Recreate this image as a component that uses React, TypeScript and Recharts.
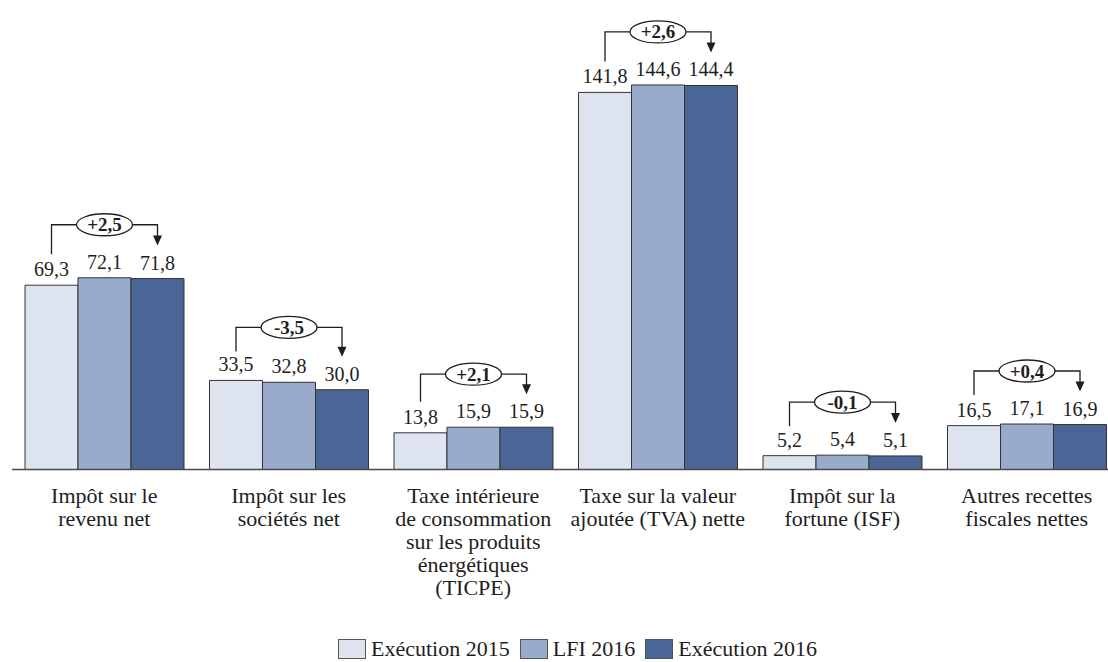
import React from 'react';
import { BarChart, Bar, XAxis, YAxis, LabelList } from 'recharts';

const categories = [
  'Impôt sur le revenu net',
  'Impôt sur les sociétés net',
  'Taxe intérieure de consommation sur les produits énergétiques (TICPE)',
  'Taxe sur la valeur ajoutée (TVA) nette',
  'Impôt sur la fortune (ISF)',
  'Autres recettes fiscales nettes'
];

const tickLines = [
  ['Impôt sur le', 'revenu net'],
  ['Impôt sur les', 'sociétés net'],
  ['Taxe intérieure', 'de consommation', 'sur les produits', 'énergétiques', '(TICPE)'],
  ['Taxe sur la valeur', 'ajoutée (TVA) nette'],
  ['Impôt sur la', 'fortune (ISF)'],
  ['Autres recettes', 'fiscales nettes']
];

const exec2015 = [69.3, 33.5, 13.8, 141.8, 5.2, 16.5];
const lfi2016 = [72.1, 32.8, 15.9, 144.6, 5.4, 17.1];
const exec2016 = [71.8, 30.0, 15.9, 144.4, 5.1, 16.9];
const deltas = ['+2,5', '-3,5', '+2,1', '+2,6', '-0,1', '+0,4'];

const seriesNames = ['Exécution 2015', 'LFI 2016', 'Exécution 2016'];
const COLORS = ['#dde4ef', '#98abcc', '#4a6697'];

const FONT = "'Liberation Serif', 'Times New Roman', serif";
const INK = '#1e1e1e';

const data = categories.map((cat, i) => ({
  cat,
  e15: exec2015[i],
  lfi: lfi2016[i],
  e16: exec2016[i]
}));

const fmt = (v: number) => v.toFixed(1).replace('.', ',');

function ValueLabel(props: any) {
  const { x, y, width, value } = props;
  return (
    <text x={x + width / 2} y={y - 9} textAnchor="middle" fontSize={20} fontFamily={FONT} fill={INK}>
      {fmt(Number(value))}
    </text>
  );
}

// value label + bracket with the 2015 -> 2016 difference, drawn from the last series
function LastLabel(props: any) {
  const { x, y, width, height, index } = props;
  const v3 = exec2016[index];
  const base = y + height;
  const k = height / v3;
  const top = (v: number) => base - v * k;
  const maxTop = top(Math.max(exec2015[index], lfi2016[index], exec2016[index]));
  const hy = maxTop - 53;
  const x1 = x - 1.5 * width;
  const xm = x - width / 2;
  const x3 = x + width / 2;
  const leftEnd = Math.max(top(exec2015[index]) - 31, hy + 24);
  const tip = top(exec2016[index]) - 33;
  return (
    <g>
      <text x={x3} y={y - 9} textAnchor="middle" fontSize={20} fontFamily={FONT} fill={INK}>
        {fmt(v3)}
      </text>
      <polyline points={`${x1},${leftEnd} ${x1},${hy} ${x3},${hy} ${x3},${tip - 9}`} fill="none" stroke={INK} strokeWidth={1.3} />
      <polygon points={`${x3 - 4.5},${tip - 10} ${x3 + 4.5},${tip - 10} ${x3},${tip}`} fill={INK} />
      <ellipse cx={xm} cy={hy} rx={28} ry={11} fill="#fff" stroke={INK} strokeWidth={1.3} />
      <text x={xm} y={hy + 6.5} textAnchor="middle" fontSize={19} fontWeight="bold" fontFamily={FONT} fill={INK}>
        {deltas[index]}
      </text>
    </g>
  );
}

function CategoryTick(props: any) {
  const { x, y, index } = props;
  const lines = tickLines[index] || [];
  return (
    <text x={x} y={y} textAnchor="middle" fontSize={22} fontFamily={FONT} fill={INK}>
      {lines.map((l, i) => (
        <tspan key={i} x={x} y={y + 25 + i * 23}>{l}</tspan>
      ))}
    </text>
  );
}

export default function App() {
  return (
    <div style={{ position: 'absolute', left: 0, top: 0, width: 1108, height: 662, overflow: 'hidden', background: '#fff' }}>
      <BarChart
        width={1130}
        height={662}
        data={data}
        margin={{ top: 44, right: 11, left: 12, bottom: 10 }}
        barSize={53}
        barGap={0}
      >
        <XAxis
          dataKey="cat"
          interval={0}
          tickLine={false}
          axisLine={{ stroke: '#4a4a4a', strokeWidth: 1.5 }}
          height={182.5}
          tick={<CategoryTick />}
        />
        <YAxis hide domain={[0, 160]} />
        <Bar dataKey="e15" fill={COLORS[0]} stroke="#333" strokeWidth={1} isAnimationActive={false}>
          <LabelList dataKey="e15" content={<ValueLabel />} />
        </Bar>
        <Bar dataKey="lfi" fill={COLORS[1]} stroke="#333" strokeWidth={1} isAnimationActive={false}>
          <LabelList dataKey="lfi" content={<ValueLabel />} />
        </Bar>
        <Bar dataKey="e16" fill={COLORS[2]} stroke="#333" strokeWidth={1} isAnimationActive={false}>
          <LabelList dataKey="e16" content={<LastLabel />} />
        </Bar>
      </BarChart>
      <div
        style={{
          position: 'absolute',
          top: 637,
          left: 338,
          display: 'flex',
          alignItems: 'center',
          fontFamily: FONT,
          fontSize: 22,
          color: INK,
          lineHeight: '24px',
          whiteSpace: 'nowrap'
        }}
      >
        {seriesNames.map((name, i) => (
          <div key={name} style={{ display: 'flex', alignItems: 'center', marginRight: 10 }}>
            <span
              style={{
                display: 'inline-block',
                width: 28,
                height: 20,
                background: COLORS[i],
                border: '1px solid #555',
                marginRight: 5,
                boxSizing: 'border-box'
              }}
            />
            <span>{name}</span>
          </div>
        ))}
      </div>
    </div>
  );
}
